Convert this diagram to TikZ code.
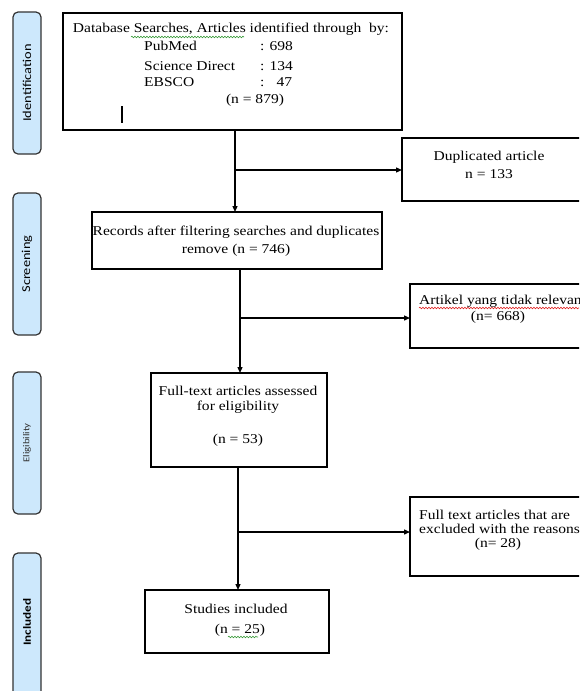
\documentclass[tikz,border=0pt]{standalone}
\usepackage{fontspec}
\setmainfont{Liberation Serif}[FakeStretch=1.15]
\newfontfamily\tabfont{Carlito}[FakeStretch=1.2]
\usetikzlibrary{arrows.meta,decorations.pathmorphing}
\definecolor{tabblue}{HTML}{CDE8FC}
\definecolor{tabedge}{HTML}{333333}
\definecolor{spellgreen}{HTML}{3A9A3A}
\definecolor{spellred}{HTML}{E02020}
\begin{document}
\begin{tikzpicture}[x=1pt,y=-1pt,
  box/.style={draw=black, line width=1.3pt, inner sep=0pt, outer sep=0pt},
  tabbox/.style={draw=tabedge, line width=1.2pt, fill=tabblue, rounded corners=5pt, inner sep=0pt, outer sep=0pt, minimum width=28pt},
  flow/.style={line width=1.3pt, -{Triangle[length=6pt,width=5pt]}},
  txt/.style={font=\fontsize{13.5}{16}\selectfont, inner sep=0pt},
  tabtxt/.style={font=\tabfont\fontsize{12}{14}\selectfont, rotate=90, inner sep=0pt},
  squig/.style={line width=0.6pt, decorate, decoration={snake, amplitude=0.8pt, segment length=3pt}}
]
\clip (0,0) rectangle (579,691);

% phase tabs
\node[tabbox, minimum height=142pt] (tabI) at (27,83) {};
\node[tabbox, minimum height=142pt] (tabS) at (27,264) {};
\node[tabbox, minimum height=142pt] (tabE) at (27,443) {};
\node[tabbox, minimum height=150pt] (tabN) at (27,628) {};
\node[tabtxt] (tabIt) at (tabI) {Identification};
\node[tabtxt] (tabSt) at (tabS) {Screening};
\node[tabtxt, font=\tabfont\fontsize{9}{11}\selectfont, text=black!80] (tabEt) at (tabE) {Eligibility};
\node[tabtxt, font=\tabfont\bfseries\fontsize{11}{13}\selectfont] (tabNt) at (27,622) {Included};

% boxes
\node[box, minimum width=339pt, minimum height=117pt] (b1) at (232.5,71.5) {};
\node[box, minimum width=188pt, minimum height=63pt] (dup) at (496,169.5) {};
\node[box, minimum width=290pt, minimum height=57pt] (b2) at (237,240.5) {};
\node[box, minimum width=180pt, minimum height=64pt] (art) at (500,316) {};
\node[box, minimum width=176pt, minimum height=94pt] (b3) at (239,420) {};
\node[box, minimum width=180pt, minimum height=79pt] (exc) at (500,536.5) {};
\node[box, minimum width=184pt, minimum height=63pt] (b4) at (237,621.5) {};

% texts in box 1
\node[txt] (t1a) at (231,29) {Database Searches, Articles identified through\ \ by:};
\node[txt, anchor=west] (t1b) at (144,46) {PubMed};
\node[txt, anchor=west] (t1c) at (144,66) {Science Direct};
\node[txt, anchor=west] (t1d) at (144,82) {EBSCO};
\node[txt, anchor=west] (v1b) at (260,46) {: 698};
\node[txt, anchor=west] (v1c) at (260,66) {: 134};
\node[txt, anchor=west] (v1d) at (260,82) {:\hspace{12pt}47};
\node[txt] (t1e) at (255,100) {(n = 879)};
\draw[line width=2.2pt] (122,106) -- (122,123);
\draw[squig, spellgreen] (131,37) -- (244,37);

% duplicated
\node[txt] (td1) at (489,157) {Duplicated article};
\node[txt] (td2) at (489,174) {n = 133};

% box 2
\node[txt] (t2a) at (236,232) {Records after filtering searches and duplicates};
\node[txt] (t2b) at (236,250) {remove (n = 746)};

% not relevant
\node[txt, anchor=west] (ta1) at (419,301) {Artikel yang tidak relevan};
\node[txt] (ta2) at (498,317) {(n= 668)};
\draw[squig, spellred] (419,308) -- (579,308);

% box 3
\node[txt] (t3a) at (238,391) {Full-text articles assessed};
\node[txt] (t3b) at (238,407) {for eligibility};
\node[txt] (t3c) at (238,440) {(n = 53)};

% excluded
\node[txt, anchor=west] (te1) at (419,515) {Full text articles that are};
\node[txt, anchor=west] (te2) at (419,529) {excluded with the reasons};
\node[txt] (te3) at (498,544) {(n= 28)};

% box 4
\node[txt] (t4a) at (236,609) {Studies included};
\node[txt] (t4b) at (240,630) {(n = 25)};
\draw[squig, spellgreen] (228,637) -- (258,637);

% connectors
\coordinate (j1) at (235,170);
\coordinate (j2) at (240,318);
\coordinate (j3) at (238,532);
\draw[flow] (b1.south -| j1) -- (b2.north -| j1);
\draw[flow] (j1) -- (j1 -| dup.west);
\draw[flow] (b2.south -| j2) -- (b3.north -| j2);
\draw[flow] (j2) -- (j2 -| art.west);
\draw[flow] (b3.south -| j3) -- (b4.north -| j3);
\draw[flow] (j3) -- (j3 -| exc.west);
\end{tikzpicture}
\end{document}
